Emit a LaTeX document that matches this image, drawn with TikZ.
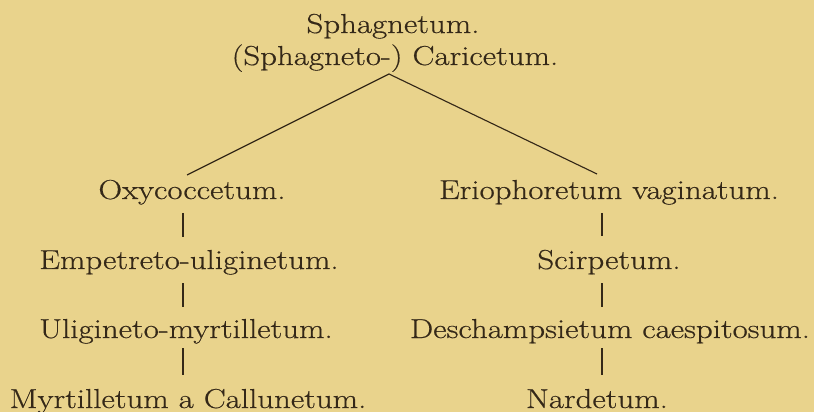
\documentclass[tikz,border=0pt]{standalone}
\usepackage{fontspec}
\setmainfont{Latin Modern Roman}[FakeStretch=1.2, FakeBold=0.5]
\usetikzlibrary{calc}

\definecolor{paper}{RGB}{233,211,140}
\definecolor{ink}{RGB}{52,40,24}

\tikzset{
    assoc/.style={anchor=base, inner sep=1pt, text=ink, font=\fontsize{19.5}{23}\selectfont},
    link/.style={draw=ink, line width=0.8pt}
}

\begin{document}
\begin{tikzpicture}[x=0.025cm, y=-0.025cm]
    \pgfmathsetmacro{\xl}{183}
    \pgfmathsetmacro{\xr}{602}

    \fill [paper] (0,0) rectangle (814,412);
    \useasboundingbox (0,0) rectangle (814,412);

    \coordinate (apex) at (389,74);
    \coordinate (lb) at (\xl,0);
    \coordinate (rb) at (\xr,0);

    \node[assoc] (sphag) at (393,33) {Sphagnetum.};
    \node[assoc] (caric) at (395,65) {(Sphagneto-) Caricetum.};
    \node[assoc] (oxy) at (192,199) {Oxycoccetum.};
    \node[assoc] (erio) at (609,199) {Eriophoretum vaginatum.};
    \node[assoc] (empet) at (189,269) {Empetreto-uliginetum.};
    \node[assoc] (scirp) at (609,269) {Scirpetum.};
    \node[assoc] (ulig) at (186,338) {Uligineto-myrtilletum.};
    \node[assoc] (desch) at (610,338) {Deschampsietum caespitosum.};
    \node[assoc] (myrt) at (188,408) {Myrtilletum a Callunetum.};
    \node[assoc] (nard) at (597,408) {Nardetum.};

    \draw [link] ($(oxy.base)+(-5,-24)$) -- (apex) -- ($(erio.base)+(-12,-25)$);

    \draw [link] ($(oxy.base -| lb)+(0,14)$) -- ($(empet.base -| lb)+(0,-32)$);
    \draw [link] ($(empet.base -| lb)+(0,14)$) -- ($(ulig.base -| lb)+(0,-31)$);
    \draw [link] ($(ulig.base -| lb)+(0,10)$) -- ($(myrt.base -| lb)+(0,-33)$);

    \draw [link] ($(erio.base -| rb)+(0,14)$) -- ($(scirp.base -| rb)+(0,-33)$);
    \draw [link] ($(scirp.base -| rb)+(0,14)$) -- ($(desch.base -| rb)+(0,-31)$);
    \draw [link] ($(desch.base -| rb)+(0,10)$) -- ($(nard.base -| rb)+(0,-33)$);
\end{tikzpicture}
\end{document}
